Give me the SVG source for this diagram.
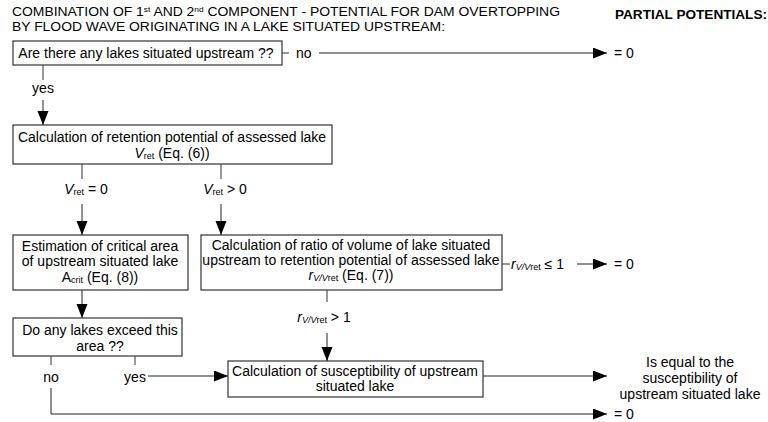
<svg xmlns="http://www.w3.org/2000/svg" width="768" height="422" viewBox="0 0 768 422">
<style>
text{font-family:"Liberation Sans",Arial,sans-serif;fill:#000}
.t{font-size:12.5px}
.b{font-size:14px}
.c{text-anchor:middle}
.box{fill:#fff;stroke:#333;stroke-width:1.2}
.ln{fill:none;stroke:#333;stroke-width:1}
.ar{fill:none;stroke:#222;stroke-width:1;marker-end:url(#ah)}
.sub{font-size:9px}
.i{font-style:italic}
</style>
<defs>
<marker id="ah" markerUnits="userSpaceOnUse" markerWidth="15" markerHeight="12" refX="14" refY="5.5" orient="auto">
<path d="M0,0 L14,5.5 L0,11 z" fill="#000"/>
</marker>
</defs>
<g id="title">
<text class="t" x="12" y="16" textLength="548" lengthAdjust="spacingAndGlyphs">COMBINATION OF 1<tspan font-size="7.5" dy="-4">st</tspan><tspan dy="4"> AND 2</tspan><tspan font-size="7.5" dy="-4">nd</tspan><tspan dy="4"> COMPONENT - POTENTIAL FOR DAM OVERTOPPING</tspan></text>
<text class="t" x="12" y="31" textLength="433" lengthAdjust="spacingAndGlyphs">BY FLOOD WAVE ORIGINATING IN A LAKE SITUATED UPSTREAM:</text>
<text class="t" x="615" y="19" font-weight="bold" textLength="152" lengthAdjust="spacingAndGlyphs">PARTIAL POTENTIALS:</text>
</g>
<g id="connectors">
<line class="ln" x1="282" y1="53" x2="289" y2="53"/>
<text class="b" x="296" y="58">no</text>
<line class="ar" x1="319" y1="53" x2="607" y2="53"/>
<text class="b" x="614" y="58">= 0</text>
<line class="ln" x1="43" y1="65" x2="43" y2="80"/>
<text class="b c" x="43" y="93">yes</text>
<line class="ar" x1="43" y1="100" x2="43" y2="125"/>
<line class="ln" x1="82" y1="164" x2="82" y2="179"/>
<text class="b c" x="86" y="194"><tspan class="i">V</tspan><tspan class="sub" dy="1">ret</tspan><tspan dy="-1"> = 0</tspan></text>
<line class="ar" x1="82" y1="204" x2="82" y2="235"/>
<line class="ln" x1="221" y1="164" x2="221" y2="179"/>
<text class="b c" x="225" y="194"><tspan class="i">V</tspan><tspan class="sub" dy="1">ret</tspan><tspan dy="-1"> &gt; 0</tspan></text>
<line class="ar" x1="221" y1="204" x2="221" y2="235"/>
<line class="ar" x1="82" y1="290" x2="82" y2="318"/>
<line class="ln" x1="502" y1="264" x2="510" y2="264"/>
<text class="b" x="511" y="269"><tspan class="i">r</tspan><tspan class="sub i" dy="1">V/V</tspan><tspan class="sub">ret</tspan><tspan dy="-1"> ≤ 1</tspan></text>
<line class="ar" x1="577" y1="264" x2="607" y2="264"/>
<text class="b" x="614" y="269">= 0</text>
<line class="ln" x1="327" y1="290" x2="327" y2="302"/>
<text class="b c" x="324" y="322"><tspan class="i">r</tspan><tspan class="sub i" dy="1">V/V</tspan><tspan class="sub">ret</tspan><tspan dy="-1"> &gt; 1</tspan></text>
<line class="ar" x1="327" y1="333" x2="327" y2="361"/>
<line class="ln" x1="51" y1="356" x2="51" y2="365"/>
<text class="b c" x="51" y="382">no</text>
<polyline class="ar" points="51,388 51,414 607,414"/>
<text class="b" x="614" y="419">= 0</text>
<line class="ln" x1="135" y1="356" x2="135" y2="365"/>
<text class="b c" x="135" y="382">yes</text>
<line class="ar" x1="148" y1="376" x2="228" y2="376"/>
<line class="ar" x1="483" y1="376" x2="607" y2="376"/>
<text class="b c" x="690" y="367">Is equal to the</text>
<text class="b c" x="690" y="383">susceptibility of</text>
<text class="b c" x="690" y="399">upstream situated lake</text>
</g>
<g id="n1">
<rect class="box" x="13" y="41" width="269" height="24"/>
<text class="b c" x="146" y="58">Are there any lakes situated upstream ??</text>
</g>
<g id="n2">
<rect class="box" x="13" y="125" width="319" height="39"/>
<text class="b c" x="172" y="142">Calculation of retention potential of assessed lake</text>
<text class="b c" x="172" y="158"><tspan class="i">V</tspan><tspan class="sub" dy="1">ret</tspan><tspan dy="-1"> (Eq. (6))</tspan></text>
</g>
<g id="n3">
<rect class="box" x="13" y="235" width="175" height="55"/>
<text class="b c" x="100" y="251">Estimation of critical area</text>
<text class="b c" x="100" y="266">of upstream situated lake</text>
<text class="b c" x="100" y="282">A<tspan class="sub" dy="1">crit</tspan><tspan dy="-1"> (Eq. (8))</tspan></text>
</g>
<g id="n4">
<rect class="box" x="201" y="235" width="301" height="55"/>
<text class="b c" x="351" y="250">Calculation of ratio of volume of lake situated</text>
<text class="b c" x="351" y="265">upstream to retention potential of assessed lake</text>
<text class="b c" x="351" y="280"><tspan class="i">r</tspan><tspan class="sub i" dy="1">V/V</tspan><tspan class="sub">ret</tspan><tspan dy="-1"> (Eq. (7))</tspan></text>
</g>
<g id="n5">
<rect class="box" x="13" y="318" width="169" height="38"/>
<text class="b c" x="100" y="335">Do any lakes exceed this</text>
<text class="b c" x="100" y="351">area ??</text>
</g>
<g id="n6">
<rect class="box" x="228" y="361" width="255" height="36"/>
<text class="b c" x="355" y="376">Calculation of susceptibility of upstream</text>
<text class="b c" x="355" y="391">situated lake</text>
</g>
</svg>
